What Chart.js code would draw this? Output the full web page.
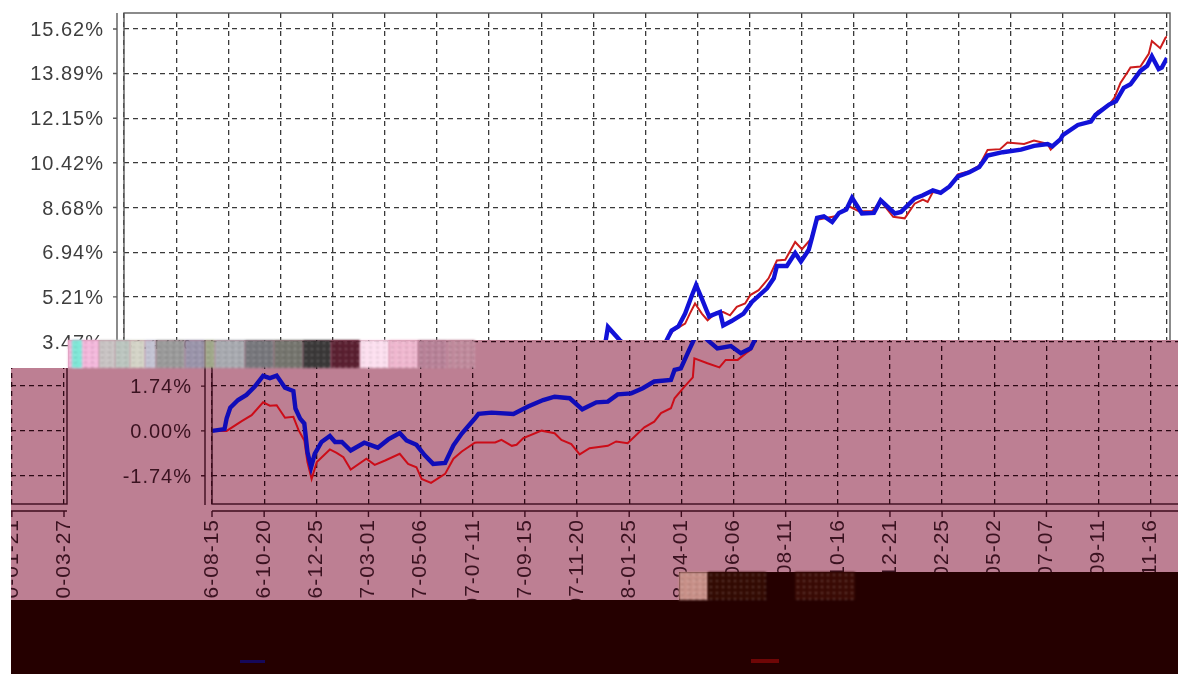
<!DOCTYPE html>
<html>
<head>
<meta charset="utf-8">
<script src="https://cdn.jsdelivr.net/npm/chart.js@4/dist/chart.umd.js"></script>
<style>
html, body { margin: 0; background: #fff; }
#stage { position: relative; width: 1178px; height: 674px; overflow: hidden; background: #fff; }
#stage > * { position: absolute; }
canvas { filter: blur(0.7px); }
#pink { left: 11px; top: 340px; width: 1167px; height: 260px; background: #bd7f93; }
#wrapChart { left: -1103px; top: 0; clip-path: inset(368px 0 0 1114px); }
#lowerChart { left: 88px; top: 0; clip-path: inset(340px 0 0 0); }
#topChart { left: 0; top: 0; background: #fff;
  clip-path: polygon(0 0, 1178px 0, 1178px 340px, 68px 340px, 68px 368px, 11px 368px, 11px 674px, 0 674px); }
#band1 { left: 11px; top: 600px; width: 1167px; height: 74px; background: #250000; }
#band2 { left: 679px; top: 572px; width: 499px; height: 28px; background: #250000; }
#legendBlue { left: 240px; top: 660px; width: 25px; height: 3px; background: #16085a; }
#legendRed { left: 751px; top: 659px; width: 28px; height: 4px; background: #6e0606; }
.blotch { height: 28px; filter: blur(0.8px);
  background-image: radial-gradient(rgba(255,255,255,.22) 1px, transparent 1.6px),
                    radial-gradient(rgba(0,0,0,.16) 1px, transparent 1.6px);
  background-size: 6px 6px, 7px 5px; }
</style>
</head>
<body>
<div id="stage">
  <div id="pink"></div>
  <canvas id="wrapChart" width="1178" height="674"></canvas>
  <canvas id="lowerChart" width="1178" height="674"></canvas>
  <canvas id="topChart" width="1178" height="674"></canvas>
  <div id="band1"></div>
  <div id="band2"></div>
  <div id="legendBlue"></div>
  <div id="legendRed"></div>
</div>
<script>
const tickLabels = ['2006-08-15', '2006-10-20', '2006-12-25', '2007-03-01', '2007-05-06', '2007-07-11', '2007-09-15',
    '2007-11-20', '2008-01-25', '2008-04-01', '2008-06-06', '2008-08-11', '2008-10-16', '2008-12-21', '2009-02-25',
    '2009-05-02', '2009-07-07', '2009-09-11', '2009-11-16', '2010-01-21', '2010-03-27'];
const percentTicks = [-1.74, 0, 1.74, 3.47, 5.21, 6.94, 8.68, 10.42, 12.15, 13.89, 15.62];

// x is measured in tick periods (0 = first date label, 20 = last)
const blueAt = [0, .24, .28, .35, .5, .66, .82, .98, 1.11, 1.24, 1.4, 1.56, 1.6, 1.69, 1.77, 1.83, 1.9, 1.97, 2.1, 2.26,
    2.36, 2.49, 2.66, 2.92, 3.18, 3.38, 3.6, 3.73, 3.92, 4.08, 4.24, 4.47, 4.63, 4.79, 5.04, 5.11, 5.36, 5.78, 6.06, 6.35,
    6.57, 6.86, 7.1, 7.37, 7.59, 7.78, 8.04, 8.26, 8.48, 8.8, 8.87, 8.99, 9.15, 9.24, 9.28, 9.5, 9.69, 9.95, 10.14, 10.33,
    10.42, 10.5, 10.63, 10.76, 10.88, 10.97, 11.08, 11.17, 11.22, 11.43, 11.49, 11.65, 11.88, 12.04, 12.33, 12.46, 12.52,
    12.71, 12.87, 12.98, 13.13, 13.19, 13.29, 13.42, 13.58, 13.71, 13.85, 13.96, 14.15, 14.38, 14.51, 14.78, 14.9, 15.16,
    15.32, 15.51, 15.66, 15.83, 15.99, 16.21, 16.4, 16.56, 16.85, 17.2, 17.45, 17.71, 17.8, 17.96, 18, 18.29, 18.54, 18.63,
    18.89, 19.02, 19.17, 19.3, 19.49, 19.62, 19.71, 19.84, 19.9, 20];
const blueVals = [0, .07, .48, .9, 1.2, 1.4, 1.72, 2.14, 2.05, 2.15, 1.68, 1.55, .87, .48, .29, -.82, -1.41, -.89, -.43, -.2,
    -.43, -.43, -.76, -.46, -.65, -.33, -.08, -.37, -.54, -.95, -1.28, -1.24, -.56, -.1, .48, .66, .71, .66, .95, 1.2,
    1.33, 1.27, .84, 1.11, 1.14, 1.42, 1.46, 1.66, 1.92, 1.98, 2.37, 2.43, 3.15, 3.54, 4.04, 3.54, 3.21, 3.3, 3.02, 3.21,
    3.58, 3.9, 4.06, 4.56, 5.21, 5.67, 5.14, 4.69, 4.45, 4.62, 4.1, 4.27, 4.56, 5.01, 5.54, 5.93, 6.41,
    6.41, 6.91, 6.58, 7.04, 7.49, 8.28, 8.34, 8.12, 8.47, 8.6, 9.06, 8.45, 8.47, 8.96, 8.45, 8.51, 9.03,
    9.16, 9.35, 9.25, 9.5, 9.89, 10.05, 10.25, 10.7, 10.83, 10.93, 11.08, 11.15, 11.06, 11.34, 11.49, 11.89, 12.02, 12.28,
    12.68, 12.81, 13.33, 13.47, 13.99, 14.19, 14.56, 14.06, 14.12, 14.49];

const redAt = [0, .28, .57, .76, .98, 1.11, 1.24, 1.4, 1.56, 1.66, 1.77, 1.83, 1.91, 2.01, 2.26, 2.39, 2.52, 2.66, 2.96, 3.12,
    3.32, 3.6, 3.76, 3.92, 4.02, 4.2, 4.47, 4.63, 4.79, 5.04, 5.08, 5.43, 5.55, 5.75, 5.84, 5.97, 6.32, 6.57, 6.7, 6.89,
    7.05, 7.24, 7.59, 7.75, 7.97, 8.29, 8.48, 8.61, 8.8, 8.87, 9.06, 9.22, 9.25, 9.5, 9.73, 9.85, 10.08, 10.24, 10.33,
    10.42, 10.53, 10.76, 10.85, 10.95, 11.08, 11.19, 11.37, 11.49, 11.62, 11.75, 11.91, 12.01, 12.17, 12.36, 12.52, 12.68,
    12.87, 13, 13.16, 13.29, 13.64, 13.9, 14.09, 14.35, 14.51, 14.75, 14.97, 15.16, 15.32, 15.41, 15.51, 15.66, 15.83, 15.99,
    16.21, 16.4, 16.56, 16.8, 16.94, 17.26, 17.45, 17.71, 17.77, 17.96, 18, 18.29, 18.54, 18.67, 18.89, 18.99, 19.11, 19.24,
    19.3, 19.49, 19.65, 19.71, 19.87, 19.97, 20];
const redVals = [0, 0, .38, .61, 1.11, .98, 1, .51, .55, .03, -.37, -1.21, -1.87, -1.21, -.72, -.85, -1.02, -1.5, -1.08, -1.32,
    -1.15, -.89, -1.28, -1.41, -1.87, -2.02, -1.67, -1.08, -.8, -.46, -.45, -.45, -.35, -.58, -.54, -.28, .01, -.09, -.35, -.51,
    -.91, -.67, -.58, -.41, -.48, .14, .36, .69, .88, 1.27, 1.72, 2.08, 2.82, 2.63, 2.47, 2.76, 2.76, 3.02, 3.15,
    3.58, 3.9, 4.17, 4.56, 4.95, 4.56, 4.3, 4.62, 4.62, 4.49, 4.82, 4.95, 5.28, 5.47, 5.93, 6.62, 6.65,
    7.34, 7.06, 7.43, 8.21, 8.34, 8.73, 8.54, 8.54, 8.93, 8.32, 8.26, 8.83, 8.99, 8.9, 9.28, 9.25, 9.5, 9.97,
    10.09, 10.31, 10.92, 10.95, 11.21, 11.15, 11.28, 11.15, 10.93, 11.34, 11.49, 11.89, 12.02, 12.41, 12.68, 12.94, 13.53, 13.93,
    14.12, 14.16, 14.65, 15.15, 14.87, 15.27, 15.33];

const whitePalette = { text: '#3e3e3e', grid: '#3a3a3a', axis: '#5a5a5a', blue: '#1212d8', red: '#cc1c1c' };
const pinkPalette = { text: '#3a1220', grid: '#2c0814', axis: '#3e0c1e', blue: '#100cb8', red: '#cc0c18' };

// corrupted strips in the photograph: [left, width, colour]
const blotches = [
    [68, 31, '#f4b8dc'], [72, 10, '#7fe8d8'], [99, 16, '#c9c4c4'], [115, 15, '#bcc6c0'], [130, 15, '#d5d5c8'],
    [145, 11, '#c4c4d4'], [156, 29, '#9a9a9a'], [185, 20, '#9a94aa'], [205, 10, '#a0a88a'], [215, 30, '#a8aab0'],
    [245, 29, '#77777c'], [274, 29, '#75756e'], [303, 28, '#3a3838'], [331, 29, '#5a1f30'], [360, 29, '#fde0f0'],
    [389, 29, '#f0b8d0'], [418, 29, '#b88298'], [447, 28, '#c08a9c']
];
const darkBlotches = [[679, 29, '#c89088'], [708, 58, '#330a02'], [795, 60, '#3a0a04']];

const stage = document.getElementById('stage');
function addBlotch(b, top) {
    const el = document.createElement('div');
    el.className = 'blotch';
    el.style.cssText = 'left:' + b[0] + 'px;top:' + top + 'px;width:' + b[1] + 'px;background-color:' + b[2];
    stage.appendChild(el);
}
blotches.forEach(b => addBlotch(b, 340));
darkBlotches.forEach(b => addBlotch(b, 572));

const framePlugin = {
    id: 'frame',
    beforeDraw(chart) {
        chart.ctx.letterSpacing = '1px';
    },
    afterDraw(chart, args, opts) {
        const ctx = chart.ctx;
        const area = chart.chartArea;
        const gap = 7;
        ctx.save();
        ctx.strokeStyle = opts.color;
        ctx.lineWidth = 1.4;
        ctx.strokeRect(area.left, area.top, area.right + 3 - area.left, area.bottom - area.top);

        ctx.beginPath();
        ctx.moveTo(area.left - gap, area.top);
        ctx.lineTo(area.left - gap, area.bottom + 1);
        ctx.moveTo(area.left, area.bottom + gap);
        ctx.lineTo(area.right + 3, area.bottom + gap);
        chart.scales.y.ticks.forEach(t => {
            const py = chart.scales.y.getPixelForValue(t.value);
            ctx.moveTo(area.left - gap, py);
            ctx.lineTo(area.left - gap - 4, py);
        });
        chart.scales.x.ticks.forEach(t => {
            const px = chart.scales.x.getPixelForValue(t.value);
            ctx.moveTo(px, area.bottom + gap);
            ctx.lineTo(px, area.bottom + gap + 6);
        });
        ctx.stroke();
        ctx.restore();
    }
};

function toPoints(xs, ys) {
    return xs.map((x, i) => ({ x: x, y: ys[i] }));
}

function createChart(id, colors) {
    const ctx = document.getElementById(id).getContext('2d');
    const family = '"Liberation Sans", Arial, sans-serif';
    return new Chart(ctx, {
        type: 'line',
        data: {
            datasets: [
                { data: toPoints(blueAt, blueVals), borderColor: colors.blue, borderWidth: 4.4, pointRadius: 0, fill: false },
                { data: toPoints(redAt, redVals), borderColor: colors.red, borderWidth: 2, pointRadius: 0, fill: false }
            ]
        },
        options: {
            responsive: false,
            animation: false,
            layout: { padding: { top: 13, right: 11, left: 0, bottom: 0 } },
            plugins: {
                legend: { display: false },
                tooltip: { enabled: false },
                frame: { color: colors.axis }
            },
            scales: {
                x: {
                    type: 'linear',
                    min: 0,
                    max: tickLabels.length - 1,
                    afterBuildTicks(scale) {
                        scale.ticks = tickLabels.map((label, i) => ({ value: i }));
                    },
                    afterFit(scale) {
                        scale.height = 170;
                        scale.paddingLeft = 0;
                        scale.paddingRight = 0;
                    },
                    grid: { color: colors.grid, lineWidth: 1.3, drawTicks: false },
                    border: { display: false, dash: [5, 4] },
                    ticks: {
                        color: colors.text,
                        font: { family: family, size: 21 },
                        padding: 15,
                        autoSkip: false,
                        minRotation: 90,
                        maxRotation: 90,
                        callback: value => tickLabels[value]
                    }
                },
                y: {
                    type: 'linear',
                    min: -2.84,
                    max: 16.24,
                    afterBuildTicks(scale) {
                        scale.ticks = percentTicks.map(v => ({ value: v }));
                    },
                    afterFit(scale) {
                        scale.width = 124;
                        scale.paddingTop = 0;
                        scale.paddingBottom = 0;
                    },
                    grid: { color: colors.grid, lineWidth: 1.3, drawTicks: false },
                    border: { display: false, dash: [5, 4] },
                    ticks: {
                        color: colors.text,
                        font: { family: family, size: 20 },
                        padding: 20,
                        labelOffset: 1.5,
                        callback: value => value.toFixed(2) + '%'
                    }
                }
            }
        },
        plugins: [framePlugin]
    });
}

createChart('wrapChart', pinkPalette);
createChart('lowerChart', pinkPalette);
createChart('topChart', whitePalette);
</script>
</body>
</html>
